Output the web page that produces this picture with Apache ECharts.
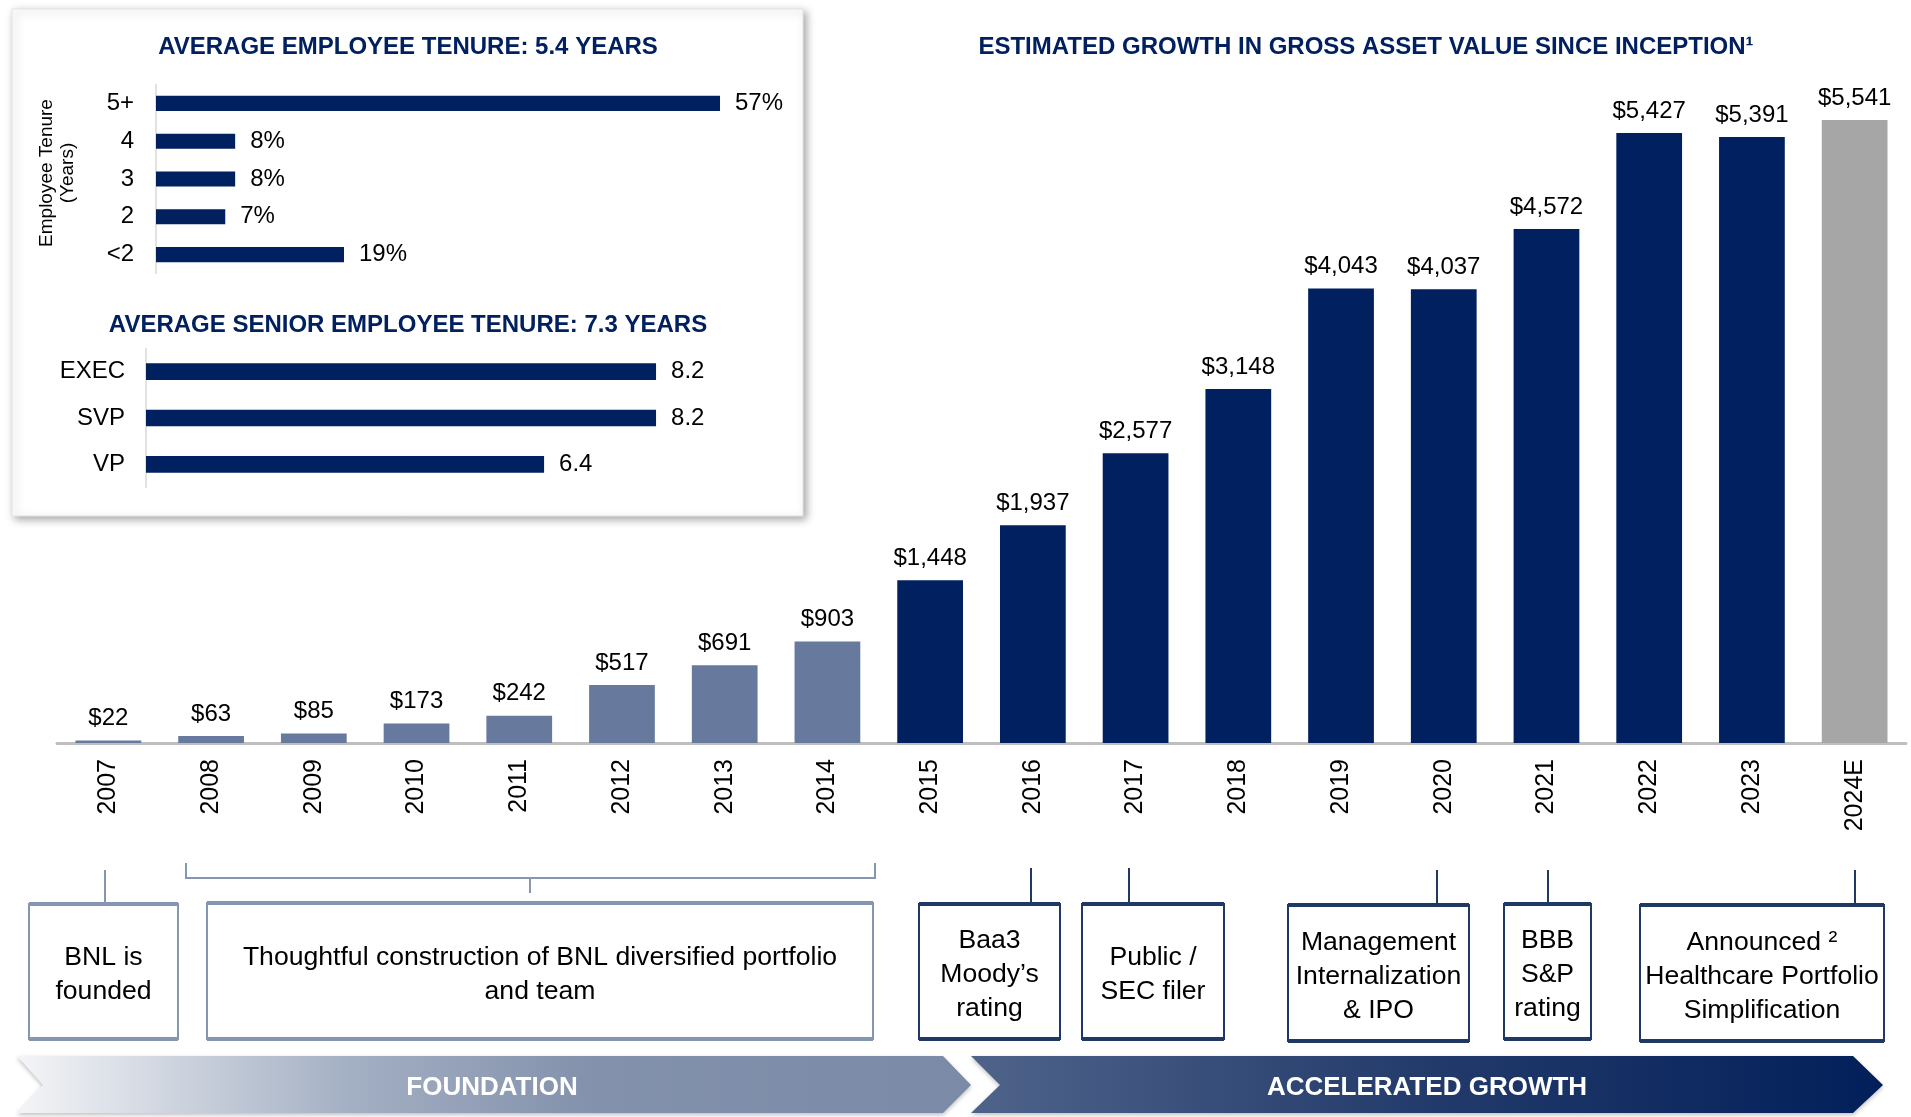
<!DOCTYPE html>
<html><head><meta charset="utf-8">
<script src="https://cdn.jsdelivr.net/npm/echarts@6/dist/echarts.min.js"></script>
<style>html,body{margin:0;padding:0;background:#fff}#c{width:1911px;height:1117px}</style>
</head><body><div id="c"></div>
<script>
// ---- data ----
const years = ['2007','2008','2009','2010','2011','2012','2013','2014','2015','2016','2017','2018','2019','2020','2021','2022','2023','2024E'];
const gav = [22,63,85,173,242,517,691,903,1448,1937,2577,3148,4043,4037,4572,5427,5391,5541];
const tenureCats = ['5+','4','3','2','<2'];
const tenurePct = [57,8,8,7,19];
const seniorCats = ['EXEC','SVP','VP'];
const seniorYears = [8.2,8.2,6.4];

const FONT = 'Liberation Sans, Arial, sans-serif';
const NAVY = '#002060';
const LIGHT = '#677A9E';
const GRAY = '#A6A6A6';
const SLATE = '#8496B0';

function barColor(p) {
  const y = years[p.dataIndex];
  if (y.endsWith('E')) return GRAY;
  return parseInt(y, 10) < 2015 ? LIGHT : NAVY;
}

const chart = echarts.init(document.getElementById('c'), null, {renderer: 'canvas'});

function txt(text, x, y, size, opts) {
  opts = opts || {};
  return {
    type: 'text', z: opts.z || 10, rotation: opts.rotation || 0, x: x, y: y,
    style: {
      text: text, x: 0, y: 0, fill: opts.fill || '#000',
      font: (opts.bold ? 'bold ' : '') + size + 'px ' + FONT,
      textAlign: 'center', textVerticalAlign: 'middle',
      lineHeight: opts.lineHeight || size * 1.2
    }
  };
}
function box(x1, y1, x2, y2, color) {
  return [
    {type: 'rect', z: 5, shape: {x: x1, y: y1, width: x2 - x1, height: y2 - y1},
     style: {fill: '#fff', stroke: color, lineWidth: 2}},
    {type: 'line', z: 6, shape: {x1: x1, y1: y1, x2: x2, y2: y1}, style: {stroke: color, lineWidth: 4}},
    {type: 'line', z: 6, shape: {x1: x1, y1: y2, x2: x2, y2: y2}, style: {stroke: color, lineWidth: 4}}
  ];
}
function vline(x, y1, y2, color) {
  return {type: 'line', z: 6, shape: {x1: x, y1: y1, x2: x, y2: y2}, style: {stroke: color, lineWidth: 2}};
}

const BOXTXT = 26.6, LH = 34;
const graphics = [].concat(
  // inset panel
  [{type: 'rect', z: 0, shape: {x: 12, y: 9, width: 791, height: 507},
    style: {fill: '#fff', stroke: '#E3E3E3', lineWidth: 1, shadowBlur: 8, shadowOffsetX: 3, shadowOffsetY: 3, shadowColor: 'rgba(0,0,0,0.35)'}}],
  [txt('ESTIMATED GROWTH IN GROSS ASSET VALUE SINCE INCEPTION\u00B9', 1366, 47.5, 24, {bold: true, fill: NAVY})],
  [txt('AVERAGE EMPLOYEE TENURE: 5.4 YEARS', 408, 47.5, 24, {bold: true, fill: NAVY})],
  [txt('AVERAGE SENIOR EMPLOYEE TENURE: 7.3 YEARS', 408, 325.5, 24, {bold: true, fill: NAVY})],
  [txt('Employee Tenure\n(Years)', 57, 173, 19, {rotation: Math.PI / 2, lineHeight: 21})],
  // connectors & bracket
  [vline(105, 870, 904, SLATE),
   {type: 'polyline', z: 6, shape: {points: [[186, 863], [186, 878], [875, 878], [875, 863]]}, style: {stroke: SLATE, lineWidth: 2, fill: null}},
   vline(530, 878, 893, SLATE),
   vline(1031, 868, 904, '#1F3864'),
   vline(1129, 868, 904, '#1F3864'),
   vline(1437, 870, 905, '#1F3864'),
   vline(1548, 870, 904, '#1F3864'),
   vline(1855, 870, 905, '#1F3864')],
  box(29, 904, 178, 1039, SLATE),
  box(207, 903, 873, 1039, SLATE),
  box(919, 904, 1060, 1039, '#1F3864'),
  box(1082, 904, 1224, 1039, '#1F3864'),
  box(1288, 905, 1469, 1041, '#1F3864'),
  box(1504, 904, 1591, 1039, '#1F3864'),
  box(1640, 905, 1884, 1041, '#1F3864'),
  [txt('BNL is\nfounded', 103.5, 975, BOXTXT, {lineHeight: LH}),
   txt('Thoughtful construction of BNL diversified portfolio\nand team', 540, 975, BOXTXT, {lineHeight: LH}),
   txt('Baa3\nMoody\u2019s\nrating', 989.5, 975, BOXTXT, {lineHeight: LH}),
   txt('Public /\nSEC filer', 1153, 975, BOXTXT, {lineHeight: LH}),
   txt('Management\nInternalization\n& IPO', 1378.5, 977, BOXTXT, {lineHeight: LH}),
   txt('BBB\nS&P\nrating', 1547.5, 975, BOXTXT, {lineHeight: LH}),
   txt('Announced \u00B2\nHealthcare Portfolio\nSimplification', 1762, 977, BOXTXT, {lineHeight: LH})],
  // phase arrows
  [{type: 'polygon', z: 5, shape: {points: [[17, 1056], [943, 1056], [971, 1085], [943, 1113], [17, 1113], [43, 1085]]},
    style: {fill: new echarts.graphic.LinearGradient(0, 0, 1, 0, [
      {offset: 0, color: '#F4F5F7'}, {offset: 0.35, color: '#A3AFC3'}, {offset: 0.6, color: '#8391AC'}, {offset: 1, color: '#7A8AA7'}]),
      shadowBlur: 4, shadowOffsetY: 2, shadowColor: 'rgba(0,0,0,0.25)'}},
   {type: 'polygon', z: 5, shape: {points: [[971, 1056], [1853, 1056], [1883, 1085], [1853, 1113], [971, 1113], [1000, 1085]]},
    style: {fill: new echarts.graphic.LinearGradient(0, 0, 1, 0, [
      {offset: 0, color: '#4F638A'}, {offset: 0.5, color: '#233B6B'}, {offset: 1, color: '#021F5A'}]),
      shadowBlur: 4, shadowOffsetY: 2, shadowColor: 'rgba(0,0,0,0.25)'}},
   txt('FOUNDATION', 492, 1087.5, 26, {bold: true, fill: '#fff', z: 12}),
   txt('ACCELERATED GROWTH', 1427, 1087.5, 26, {bold: true, fill: '#fff', z: 12})]
);

const option = {
  animation: false,
  backgroundColor: '#fff',
  textStyle: {fontFamily: FONT},
  grid: [
    {left: 57, width: 1849, top: 68.5, height: 674.5},
    {left: 156, width: 593.7, top: 84.5, height: 189},
    {left: 146, width: 622, top: 348.5, height: 139}
  ],
  xAxis: [
    {gridIndex: 0, type: 'category', data: years,
     axisLine: {lineStyle: {color: '#BFBFBF', width: 3}}, axisTick: {show: false},
     axisLabel: {rotate: 90, fontSize: 25, color: '#000', margin: 16, fontFamily: FONT}},
    {gridIndex: 1, type: 'value', min: 0, max: 60, show: false},
    {gridIndex: 2, type: 'value', min: 0, max: 10, show: false}
  ],
  yAxis: [
    {gridIndex: 0, type: 'value', min: 0, max: 6000, show: false, splitLine: {show: false}},
    {gridIndex: 1, type: 'category', data: tenureCats, inverse: true,
     axisLine: {lineStyle: {color: '#D9D9D9', width: 1.5}}, axisTick: {show: false},
     axisLabel: {fontSize: 24, color: '#000', margin: 22, fontFamily: FONT}},
    {gridIndex: 2, type: 'category', data: seniorCats, inverse: true,
     axisLine: {lineStyle: {color: '#D9D9D9', width: 1.5}}, axisTick: {show: false},
     axisLabel: {fontSize: 24, color: '#000', margin: 21, fontFamily: FONT}}
  ],
  series: [
    {type: 'bar', xAxisIndex: 0, yAxisIndex: 0, data: gav, barCategoryGap: '36%',
     itemStyle: {color: barColor},
     label: {show: true, position: 'top', distance: 10, fontSize: 24, color: '#000', fontFamily: FONT,
             formatter: p => '$' + p.value.toLocaleString('en-US')}},
    {type: 'bar', xAxisIndex: 1, yAxisIndex: 1, data: tenurePct, barCategoryGap: '60%',
     itemStyle: {color: NAVY},
     label: {show: true, position: 'right', distance: 15, fontSize: 24, color: '#000', fontFamily: FONT,
             formatter: '{c}%'}},
    {type: 'bar', xAxisIndex: 2, yAxisIndex: 2, data: seniorYears, barCategoryGap: '64%',
     itemStyle: {color: NAVY},
     label: {show: true, position: 'right', distance: 15, fontSize: 24, color: '#000', fontFamily: FONT,
             formatter: p => p.value.toFixed(1)}}
  ],
  graphic: {elements: graphics}
};
chart.setOption(option);
</script>
</body></html>
